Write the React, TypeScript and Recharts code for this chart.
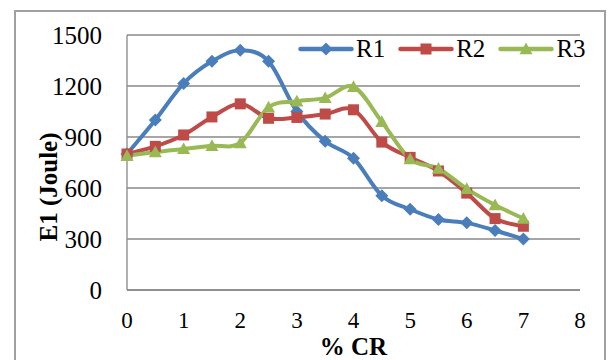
import React from 'react';
import { LineChart, Line, XAxis, YAxis, CartesianGrid, Legend } from 'recharts';

// values (x = % CR)
const cr = [0, 0.5, 1, 1.5, 2, 2.5, 3, 3.5, 4, 4.5, 5, 5.5, 6, 6.5, 7];
const r1 = [800, 1000, 1215, 1345, 1410, 1345, 1050, 875, 775, 555, 475, 415, 395, 350, 300];
const r2 = [800, 845, 912, 1018, 1095, 1010, 1015, 1035, 1060, 870, 780, 700, 570, 420, 375];
const r3 = [790, 812, 830, 848, 865, 1075, 1110, 1130, 1195, 990, 770, 715, 595, 500, 420];
const xTicks = [0, 1, 2, 3, 4, 5, 6, 7, 8];
const yTicks = [0, 300, 600, 900, 1200, 1500];

const series = [
  { key: 'R1', values: r1, color: '#4a7ebb', shape: 'diamond' },
  { key: 'R2', values: r2, color: '#be4b48', shape: 'square' },
  { key: 'R3', values: r3, color: '#98b954', shape: 'triangle' },
];

const data = cr.map((x, i) => ({ x, R1: r1[i], R2: r2[i], R3: r3[i] }));

const FONT = '"Liberation Serif", "Times New Roman", serif';

// Excel style smoothing (catmull-rom through every point)
const excelCurve = (context: any) => {
  let pts: number[][] = [];
  return {
    areaStart() {},
    areaEnd() {},
    lineStart() { pts = []; },
    point(x: number, y: number) { pts.push([+x, +y]); },
    lineEnd() {
      if (!pts.length) return;
      context.moveTo(pts[0][0], pts[0][1]);
      for (let i = 0; i < pts.length - 1; i++) {
        const p0 = pts[i - 1] || pts[i];
        const p1 = pts[i];
        const p2 = pts[i + 1];
        const p3 = pts[i + 2] || pts[i + 1];
        context.bezierCurveTo(
          p1[0] + (p2[0] - p0[0]) / 6, p1[1] + (p2[1] - p0[1]) / 6,
          p2[0] - (p3[0] - p1[0]) / 6, p2[1] - (p3[1] - p1[1]) / 6,
          p2[0], p2[1]
        );
      }
    },
  };
};

const Marker = ({ shape, cx, cy, color }: { shape: string; cx: number; cy: number; color: string }) => {
  if (shape === 'diamond') {
    const r = 6.5;
    return <polygon points={`${cx},${cy - r} ${cx + r},${cy} ${cx},${cy + r} ${cx - r},${cy}`} fill={color} />;
  }
  if (shape === 'square') {
    const r = 5.5;
    return <rect x={cx - r} y={cy - r} width={r * 2} height={r * 2} fill={color} />;
  }
  const r = 6.5;
  return <polygon points={`${cx},${cy - r} ${cx + r},${cy + r * 0.8} ${cx - r},${cy + r * 0.8}`} fill={color} />;
};

const renderLegend = () => (
  <div style={{ display: 'flex', alignItems: 'center', fontFamily: FONT, fontSize: 25, color: '#000' }}>
    {series.map((s) => (
      <div key={s.key} style={{ display: 'flex', alignItems: 'center', marginRight: 13 }}>
        <svg width={56} height={16}>
          <line x1={2.5} y1={8} x2={53.5} y2={8} stroke={s.color} strokeWidth={4.5} strokeLinecap="round" />
          <Marker shape={s.shape} cx={28} cy={8} color={s.color} />
        </svg>
        <span style={{ marginLeft: 2, lineHeight: '24px' }}>{s.key}</span>
      </div>
    ))}
  </div>
);

const YTitle = () => (
  <text
    x={48}
    y={187}
    transform="rotate(-90, 48, 187)"
    textAnchor="middle"
    dominantBaseline="central"
    fontFamily={FONT}
    fontSize={25}
    fontWeight="bold"
    fill="#000"
  >
    E1 (Joule)
  </text>
);

export default function App() {
  return (
    <div style={{ position: 'absolute', left: 0, top: 0, width: 610, height: 360, overflow: 'hidden', background: '#fff' }}>
      <div
        style={{
          position: 'absolute', left: 14, top: 10, width: 592, height: 400,
          border: '2px solid #a0a0a0', boxSizing: 'border-box',
        }}
      />
      <LineChart
        width={610}
        height={360}
        data={data}
        margin={{ top: 35, right: 30, left: 0, bottom: 4 }}
        style={{ position: 'absolute', left: 0, top: 0 }}
      >
        <CartesianGrid vertical={false} stroke="#888" strokeWidth={1.3} />
        <XAxis
          dataKey="x"
          type="number"
          domain={[0, 8]}
          ticks={xTicks}
          height={66}
          tickSize={0}
          tickMargin={22}
          axisLine={{ stroke: '#888', strokeWidth: 1.3 }}
          tickLine={false}
          tick={{ fill: '#000', fontSize: 23, fontFamily: FONT }}
          label={{ value: '% CR', position: 'insideBottom', offset: 1, fill: '#000', fontSize: 25, fontWeight: 'bold', fontFamily: FONT }}
        />
        <YAxis
          type="number"
          domain={[0, 1500]}
          ticks={yTicks}
          width={127}
          tickSize={0}
          tickMargin={25}
          axisLine={{ stroke: '#888', strokeWidth: 1.3 }}
          tickLine={false}
          tick={{ fill: '#000', fontSize: 25, fontFamily: FONT }}
          label={{ content: () => <YTitle /> }}
        />
        <Legend
          layout="horizontal"
          verticalAlign="middle"
          align="center"
          content={renderLegend}
          wrapperStyle={{ top: 37, left: 298, width: 320 }}
        />
        {series.map((s) => (
          <Line
            key={s.key}
            dataKey={s.key}
            type={excelCurve as any}
            stroke={s.color}
            strokeWidth={4}
            dot={(p: any) => <Marker key={`${s.key}-${p.index}`} shape={s.shape} cx={p.cx} cy={p.cy} color={s.color} />}
            activeDot={false}
            isAnimationActive={false}
          />
        ))}
      </LineChart>
    </div>
  );
}
